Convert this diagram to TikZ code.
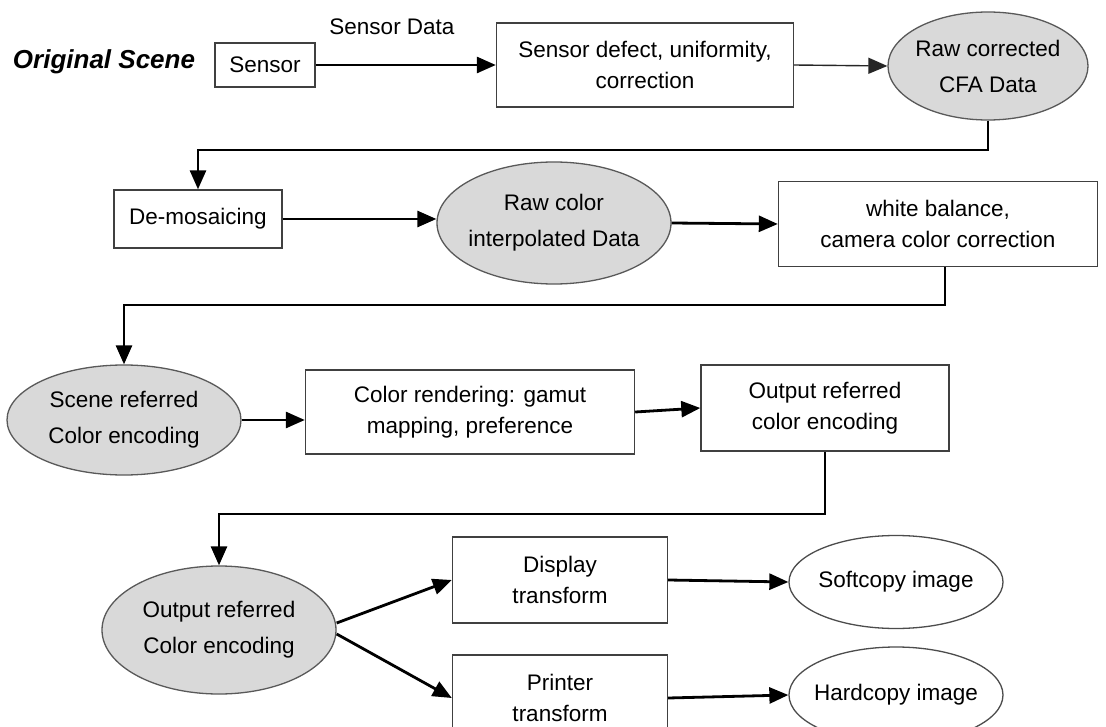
\documentclass[tikz,border=0pt]{standalone}
\usepackage{fontspec}
\setmainfont{Liberation Sans}
\usetikzlibrary{shapes.geometric,arrows.meta}
\begin{document}
\begin{tikzpicture}[x=1pt,y=-1pt,
  every node/.style={font=\fontsize{22.5}{31}\selectfont, text=black},
  stepbox/.style={draw=black!75, line width=1.4pt, fill=white, inner sep=0pt, align=center},
  dataell/.style={ellipse, draw=black!65, line width=1.3pt, fill=black!15, inner xsep=-40pt, inner ysep=-20pt, align=center, font=\fontsize{22.5}{36}\selectfont},
  outell/.style={ellipse, draw=black!70, line width=1.3pt, fill=white, inner xsep=-40pt, inner ysep=-20pt, align=center},
  arr/.style={draw=black, line width=2.8pt, -{Triangle[length=19pt,width=16pt]}},
  thinarr/.style={draw=black!85, line width=1.4pt, -{Triangle[length=19pt,width=16pt]}}
]
\useasboundingbox (0,0) rectangle (1106,727);
\clip (0,0) rectangle (1106,727);
\fill[white] (0,0) rectangle (1106,727);

\node (title) at (104,62) {\fontsize{26}{30}\selectfont\bfseries\itshape Original Scene};
\node[stepbox, minimum width=100pt, minimum height=44pt] (sensor) at (265,65) {Sensor};
\node[stepbox, minimum width=297pt, minimum height=84pt] (defect) at (645,65) {Sensor defect, uniformity,\\correction};
\node[dataell, minimum width=200pt, minimum height=108pt] (cfa) at (988,66) {Raw corrected\\CFA Data};
\node (sdlabel) at (392,27) {Sensor Data};

\node[stepbox, minimum width=168pt, minimum height=58pt] (demo) at (198,219) {De-mosaicing};
\node[dataell, minimum width=234pt, minimum height=122pt] (interp) at (554,223) {Raw color\\interpolated Data};
\node[stepbox, minimum width=319pt, minimum height=85pt] (wb) at (938,224) {white balance,\\camera color correction};

\node[dataell, minimum width=234pt, minimum height=110pt] (scene) at (124,420) {Scene referred\\Color encoding};
\node[stepbox, minimum width=329pt, minimum height=84pt] (render) at (470,412) {Color rendering: gamut\\mapping, preference};
\node[stepbox, minimum width=248pt, minimum height=86pt] (outenc) at (825,408) {Output referred\\color encoding};

\node[dataell, minimum width=234pt, minimum height=128pt] (outell) at (219,630) {Output referred\\Color encoding};
\node[stepbox, minimum width=215pt, minimum height=86pt] (disp) at (560,580) {Display\\transform};
\node[stepbox, minimum width=215pt, minimum height=86pt] (print) at (560,698) {Printer\\transform};
\node[outell, minimum width=214pt, minimum height=93pt] (soft) at (896,582) {Softcopy image};
\node[outell, minimum width=214pt, minimum height=96pt] (hard) at (896,695) {Hardcopy image};

\coordinate (r1) at (0,150);
\coordinate (r2) at (0,305);
\coordinate (r3) at (0,514);

\draw[arr] (sensor.east) -- (sensor.east -| defect.west);
\draw[thinarr] (defect.east) -- (cfa.west);
\draw[arr] (cfa.south) |- (demo.north |- r1) -- (demo.north);
\draw[arr] (demo.east) -- (demo.east -| interp.west);
\draw[arr] (interp.east) -- (wb.west);
\draw[arr] ([xshift=7pt]wb.south) |- (scene.north |- r2) -- (scene.north);
\draw[arr] (scene.east) -- (scene.east -| render.west);
\draw[arr] (render.east) -- (outenc.west);
\draw[arr] (outenc.south) |- (outell.north |- r3) -- (outell.north);
\draw[arr] ([yshift=7pt]outell.east) -- (disp.west);
\draw[arr] ([yshift=-4pt]outell.east) -- (print.west);
\draw[arr] (disp.east) -- (soft.west);
\draw[arr] (print.east) -- (hard.west);
\end{tikzpicture}
\end{document}
